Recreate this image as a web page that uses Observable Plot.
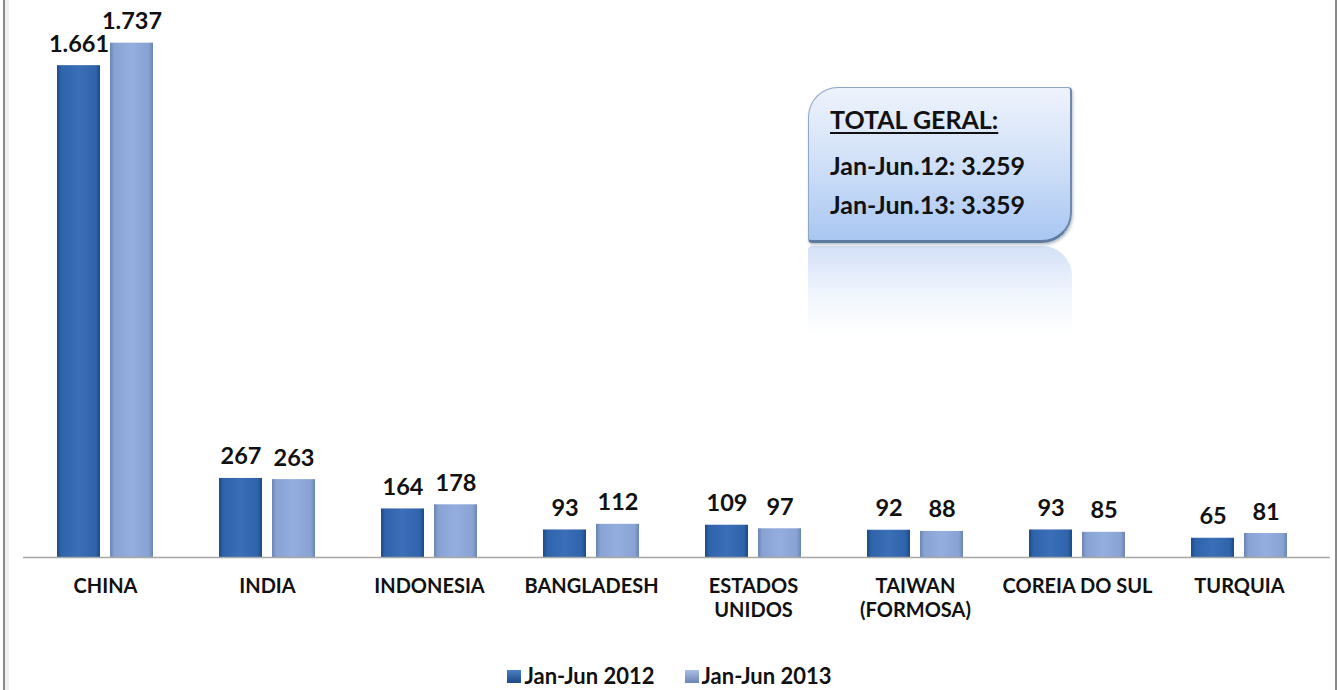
<!DOCTYPE html>
<html>
<head>
<meta charset="utf-8">
<script src="https://cdn.jsdelivr.net/npm/d3@7"></script>
<script src="https://cdn.jsdelivr.net/npm/@observablehq/plot@0.6"></script>
<style>
  html, body { margin: 0; padding: 0; background: #fff; }
  body { width: 1339px; height: 690px; position: relative; overflow: hidden; font-family: Lato, "Open Sans", sans-serif; }
  #frameL { position: absolute; left: 3px; top: 0; width: 2px; height: 690px; background: #8a8a8a; }
  #frameL2 { position: absolute; left: 5px; top: 0; width: 4px; height: 690px; background: #f0f0f0; }
  #frameR { position: absolute; left: 1335px; top: 0; width: 2px; height: 690px; background: #8a8a8a; }
  #chart { position: absolute; left: 0; top: 0; }
  #legend { position: absolute; top: 662px; left: 0; width: 1339px; display: flex; justify-content: center; gap: 30px; font-weight: 700; font-size: 22px; color: #111; line-height: 28px; }
  #legend .item { display: flex; align-items: center; gap: 3px; }
  #legend .sw { width: 14px; height: 13px; display: inline-block; }
  #box { position: absolute; left: 808px; top: 87px; width: 264px; height: 156px; box-sizing: border-box;
         border-radius: 30px 4px 30px 4px;
         background: linear-gradient(to bottom, #eef3fc 0%, #d3e2f8 45%, #a9c6f2 100%);
         border: 1px solid #8ea6c8; border-bottom: 3px solid #5f7ba0; border-right: 2px solid #6f88ab;
         box-shadow: 1px 2px 3px rgba(60,80,110,0.35); }
  #refl { position: absolute; left: 808px; top: 246px; width: 264px; height: 90px; box-sizing: border-box;
          border-radius: 4px 30px 4px 4px;
          background: linear-gradient(to bottom, rgba(196,214,244,0.75) 0%, rgba(220,232,250,0.45) 50%, rgba(255,255,255,0) 100%); }
  #box .t { position: absolute; left: 21px; font-weight: 700; font-size: 25px; color: #111; white-space: nowrap; line-height: 1; }
</style>
</head>
<body>
<div id="frameL2"></div>
<div id="frameL"></div>
<div id="frameR"></div>
<div id="chart"></div>
<div id="refl"></div>
<div id="box"></div>
<div id="legend"></div>
<script>
// ---- data ----
const countries = ["CHINA", "INDIA", "INDONESIA", "BANGLADESH", "ESTADOS UNIDOS", "TAIWAN (FORMOSA)", "COREIA DO SUL", "TURQUIA"];
const countryLabels = ["CHINA", "INDIA", "INDONESIA", "BANGLADESH", "ESTADOS\nUNIDOS", "TAIWAN\n(FORMOSA)", "COREIA DO SUL", "TURQUIA"];
const series = ["Jan-Jun 2012", "Jan-Jun 2013"];
const values2012 = [1661, 267, 164, 93, 109, 92, 93, 65];
const values2013 = [1737, 263, 178, 112, 97, 88, 85, 81];
const totalTitle = "TOTAL GERAL:";
const totalLabels = ["Jan-Jun.12", "Jan-Jun.13"];
const totalValues = [3259, 3359];

// ---- build ----
const ptBR = d3.formatLocale({decimal: ",", thousands: ".", grouping: [3], currency: ["R$", ""]});
const fmt = ptBR.format(",d");
const labelOf = new Map(countries.map((c, i) => [c, countryLabels[i]]));
const d12 = countries.map((c, i) => ({country: c, series: series[0], value: values2012[i]}));
const d13 = countries.map((c, i) => ({country: c, series: series[1], value: values2013[i]}));
const all = d12.concat(d13);

const plot = Plot.plot({
  width: 1339,
  height: 650,
  marginLeft: 24,
  marginRight: 19,
  marginTop: 24,
  marginBottom: 93,
  style: {fontFamily: "Lato, 'Open Sans', sans-serif", background: "transparent", color: "#111"},
  fx: {domain: countries, paddingInner: 0.395, paddingOuter: 0.1975, label: null, axis: null},
  x: {domain: series, paddingInner: 0.185, paddingOuter: 0, axis: null},
  y: {domain: [0, 1800], axis: null},
  marks: [
    Plot.barY(d12, {fx: "country", x: "series", y: "value", fill: "url(#g12)"}),
    Plot.barY(d13, {fx: "country", x: "series", y: "value", fill: "url(#g13)"}),
    Plot.text(all, {fx: "country", x: "series", y: "value", text: d => fmt(d.value),
      lineAnchor: "bottom", dy: -14, fontSize: 23.5, fontWeight: 700, fill: "#111"}),
    Plot.axisFx({anchor: "bottom", tickSize: 0, tickPadding: 18, label: null,
      tickFormat: d => labelOf.get(d), fontSize: 20, fontWeight: 700, lineHeight: 1.2, fill: "#111"})
  ]
});
document.getElementById("chart").appendChild(plot);

// gradients + baseline
const svg = d3.select(plot);
const defs = svg.insert("defs", ":first-child");
function grad(id, edge, mid, hi) {
  const g = defs.append("linearGradient").attr("id", id).attr("x1", 0).attr("x2", 1).attr("y1", 0).attr("y2", 0);
  [[0, edge], [0.1, mid], [0.5, hi], [0.9, mid], [1, edge]].forEach(([o, c]) =>
    g.append("stop").attr("offset", o).attr("stop-color", c));
}
grad("g12", "#1d4a86", "#2f63aa", "#3a6fb9");
grad("g13", "#6a84b4", "#88a3d3", "#94afdf");
const ys = plot.scale("y"), fxs = plot.scale("fx");
const y0 = ys.apply(0);
svg.append("line")
  .attr("x1", fxs.range[0] - 1).attr("x2", fxs.range[1] + 10)
  .attr("y1", y0 + 0.5).attr("y2", y0 + 0.5)
  .attr("stroke", "#a6a6a6").attr("stroke-width", 1.5);

// legend
const legend = d3.select("#legend");
const swatch = ["linear-gradient(to bottom, #4b7fc6, #1d4a86)", "linear-gradient(to bottom, #a9bfe4, #6a84b4)"];
series.forEach((s, i) => {
  const it = legend.append("div").attr("class", "item");
  it.append("span").attr("class", "sw").style("background", swatch[i]);
  it.append("span").text(s);
});

// total box
const box = d3.select("#box");
box.append("div").attr("class", "t").style("top", "19px").style("text-decoration", "underline")
  .style("text-underline-offset", "3px").text(totalTitle);
totalLabels.forEach((l, i) => {
  box.append("div").attr("class", "t").style("top", (65 + i * 39) + "px").text(l + ": " + fmt(totalValues[i]));
});
</script>
</body>
</html>
